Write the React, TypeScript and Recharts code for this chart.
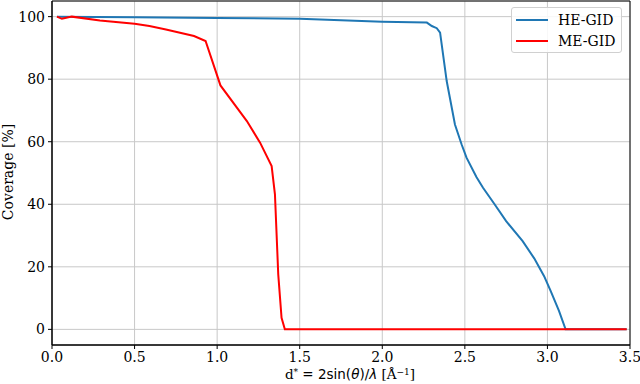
import React from "react";
import {
  LineChart,
  Line,
  XAxis,
  YAxis,
  CartesianGrid,
  ReferenceArea,
} from "recharts";

// d* values and coverage (%)
const heD = [0.03, 0.5, 1.0, 1.5, 2.0, 2.27, 2.3, 2.33, 2.35, 2.39, 2.44, 2.48, 2.51, 2.57, 2.61, 2.68, 2.75, 2.85, 2.92, 2.98, 3.02, 3.07, 3.11, 3.48];
const heCov = [100, 99.8, 99.6, 99.3, 98.4, 98.1, 97, 96.3, 94.9, 79.4, 65.5, 59.2, 54.9, 48.7, 45.3, 40, 34.6, 28.2, 22.7, 17, 12.2, 5.9, 0, 0];

const meD = [0.03, 0.06, 0.12, 0.29, 0.5, 0.59, 0.69, 0.86, 0.93, 1.02, 1.18, 1.26, 1.33, 1.35, 1.37, 1.39, 1.41, 3.48];
const meCov = [100, 99.3, 100, 98.8, 97.7, 97, 95.9, 93.8, 92.2, 78, 66.6, 59.7, 52.2, 43.2, 17.6, 3.7, 0, 0];

const xTicks = [0, 0.5, 1, 1.5, 2, 2.5, 3, 3.5];
const yTicks = [0, 20, 40, 60, 80, 100];

const heData = heD.map((d, i) => ({ d, cov: heCov[i] }));
const meData = meD.map((d, i) => ({ d, cov: meCov[i] }));

const SERIF = "'DejaVu Serif', serif";
const SANS = "'DejaVu Sans', sans-serif";
const BLUE = "#1f77b4";
const RED = "#ff0000";
const FS = 14;

function XTick(props: any) {
  const { x, y, payload } = props;
  return (
    <text x={x} y={y + 11} textAnchor="middle" fontFamily={SERIF} fontSize={FS} fill="#000">
      {Number(payload.value).toFixed(1)}
    </text>
  );
}

function YTick(props: any) {
  const { x, y, payload } = props;
  return (
    <text x={x - 1} y={y + 5} textAnchor="end" fontFamily={SERIF} fontSize={FS} fill="#000">
      {payload.value}
    </text>
  );
}

function LegendBox() {
  const item = (color: string, label: string) => (
    <div style={{ display: "flex", alignItems: "center", height: 21, whiteSpace: "nowrap" }}>
      <svg width={32} height={4} style={{ marginRight: 10 }}>
        <line x1={0} y1={2} x2={32} y2={2} stroke={color} strokeWidth={2} />
      </svg>
      <span style={{ fontFamily: SERIF, fontSize: FS, color: "#000" }}>{label}</span>
    </div>
  );
  return (
    <div
      style={{
        position: "absolute",
        left: 511,
        top: 7,
        width: 111,
        height: 46,
        boxSizing: "border-box",
        background: "rgba(255,255,255,0.85)",
        border: "1px solid #d0d0d0",
        borderRadius: 3,
        padding: "1px 0 0 4px",
      }}
    >
      {item(BLUE, "HE-GID")}
      {item(RED, "ME-GID")}
    </div>
  );
}

export default function App() {
  return (
    <div style={{ position: "absolute", left: 0, top: 0, width: 640, height: 384, background: "#fff" }}>
      <LineChart width={640} height={384} margin={{ top: 1, right: 10, bottom: 0, left: 0 }}>
        <CartesianGrid stroke="#c8c8c8" strokeWidth={1} />
        <XAxis
          type="number"
          dataKey="d"
          domain={[0, 3.5]}
          ticks={xTicks}
          allowDuplicatedCategory={false}
          tick={<XTick />}
          tickSize={4}
          axisLine={{ stroke: "#000" }}
          tickLine={{ stroke: "#000" }}
          height={39}
          label={() => (
            <text x={350} y={379} textAnchor="middle" fontSize={13.5} fill="#000" fontFamily={SERIF}>
              <tspan>d</tspan>
              <tspan dy={-4} fontSize={9}>*</tspan>
              <tspan dy={4} fontFamily={SANS}> = 2sin(</tspan>
              <tspan fontFamily={SANS} fontStyle="italic">θ</tspan>
              <tspan fontFamily={SANS}>)/</tspan>
              <tspan fontFamily={SANS} fontStyle="italic">λ</tspan>
              <tspan> [Å</tspan>
              <tspan dy={-4} fontSize={9}>−1</tspan>
              <tspan dy={4}>]</tspan>
            </text>
          )}
        />
        <YAxis
          type="number"
          domain={[-5, 105]}
          ticks={yTicks}
          width={52}
          tick={<YTick />}
          tickSize={4}
          axisLine={{ stroke: "#000" }}
          tickLine={{ stroke: "#000" }}
          label={() => (
            <text
              x={9}
              y={172}
              transform="rotate(-90 9 172)"
              textAnchor="middle"
              dominantBaseline="middle"
              fontSize={FS}
              fontFamily={SERIF}
              fill="#000"
            >
              Coverage [%]
            </text>
          )}
        />
        <ReferenceArea x1={0} x2={3.5} y1={-5} y2={105} fill="none" fillOpacity={0} stroke="#000" strokeWidth={1} ifOverflow="extendDomain" />
        <Line data={heData} dataKey="cov" name="HE-GID" type="linear" stroke={BLUE} strokeWidth={2} dot={false} isAnimationActive={false} />
        <Line data={meData} dataKey="cov" name="ME-GID" type="linear" stroke={RED} strokeWidth={2} dot={false} isAnimationActive={false} />
      </LineChart>
      <LegendBox />
    </div>
  );
}
